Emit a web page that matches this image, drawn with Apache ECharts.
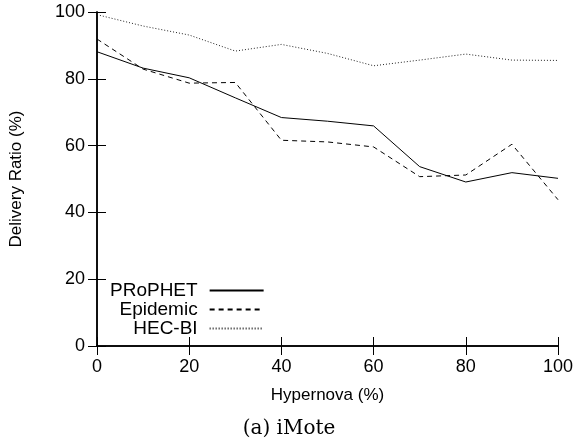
<!DOCTYPE html>
<html>
<head>
<meta charset="utf-8">
<script src="https://cdn.jsdelivr.net/npm/echarts@6/dist/echarts.min.js"></script>
<style>
html,body{margin:0;padding:0;background:#fff;}
#c{width:578px;height:444px;}
</style>
</head>
<body>
<div id="c"></div>
<script>
var hypernova = [0, 10, 20, 30, 40, 50, 60, 70, 80, 90, 100];
var prophet  = [88.1, 83.2, 80.3, 74.3, 68.4, 67.3, 65.9, 53.7, 49.1, 51.9, 50.2];
var epidemic = [91.9, 82.9, 78.7, 78.9, 61.6, 61.1, 59.6, 50.7, 51.2, 60.4, 43.8];
var hecbi    = [99.2, 95.8, 93.1, 88.3, 90.3, 87.6, 83.9, 85.6, 87.4, 85.6, 85.5];
var seriesNames = ['PRoPHET', 'Epidemic', 'HEC-BI'];
var xTicks = [0, 20, 40, 60, 80, 100];
var yTicks = [0, 20, 40, 60, 80, 100];

function pairs(ys) { return hypernova.map(function (x, i) { return [x, ys[i]]; }); }

var FONT = 'Liberation Sans';
var chart = echarts.init(document.getElementById('c'), null, {renderer: 'canvas'});

function axisCommon() {
  return {
    type: 'value', min: 0, max: 100, interval: 20,
    axisLine: {show: true, lineStyle: {color: '#000', width: 1.5}},
    axisTick: {show: true, inside: true, length: 9, lineStyle: {color: '#000', width: 1}},
    splitLine: {show: false}
  };
}

var xBottom = Object.assign(axisCommon(), {
  position: 'bottom',
  name: 'Hypernova (%)', nameLocation: 'middle', nameGap: 41,
  nameTextStyle: {fontFamily: FONT, fontSize: 17, color: '#000'},
  axisLabel: {show: true, margin: 12, fontFamily: FONT, fontSize: 18, color: '#000',
    formatter: function (v) { return xTicks.indexOf(v) >= 0 ? String(v) : ''; }}
});
var xTop = Object.assign(axisCommon(), {position: 'top', axisLabel: {show: false}});
var yLeft = Object.assign(axisCommon(), {
  position: 'left',
  name: 'Delivery Ratio (%)', nameLocation: 'middle', nameGap: 72, nameRotate: 90,
  nameTextStyle: {fontFamily: FONT, fontSize: 17, color: '#000'},
  axisLabel: {show: true, margin: 12, fontFamily: FONT, fontSize: 18, color: '#000',
    formatter: function (v) { return yTicks.indexOf(v) >= 0 ? String(v) : ''; }}
});
var yRight = Object.assign(axisCommon(), {position: 'right', axisLabel: {show: false}});

var styles = [
  {type: 'solid', width: 1, color: '#000'},
  {type: [5, 4], width: 1, color: '#000'},
  {type: [1, 2], width: 1, color: '#222'}
];
var datas = [prophet, epidemic, hecbi];

var series = seriesNames.map(function (n, i) {
  return {
    name: n, type: 'line', xAxisIndex: 0, yAxisIndex: 0,
    data: pairs(datas[i]), showSymbol: false, symbol: 'none',
    lineStyle: styles[i], itemStyle: {color: '#000'},
    animation: false, silent: true
  };
});

chart.setOption({
  backgroundColor: '#fff',
  animation: false,
  grid: {left: 95, right: 20, top: 12, bottom: 98, containLabel: false},
  xAxis: [xBottom, xTop],
  yAxis: [yLeft, yRight],
  legend: {
    data: seriesNames, orient: 'vertical', align: 'right',
    left: 110, top: 281,
    itemWidth: 54, itemHeight: 15, itemGap: 0, padding: 0,
    itemStyle: {opacity: 0},
    textStyle: {fontFamily: FONT, fontSize: 19, color: '#000', padding: [0, 7, 0, 0], lineHeight: 19},
    selectedMode: false
  },
  title: {
    text: '(a) iMote', left: 'center', top: 414,
    textStyle: {fontFamily: 'DejaVu Serif', fontSize: 20, fontWeight: 'normal', color: '#000'}
  },
  series: series
});
</script>
</body>
</html>
